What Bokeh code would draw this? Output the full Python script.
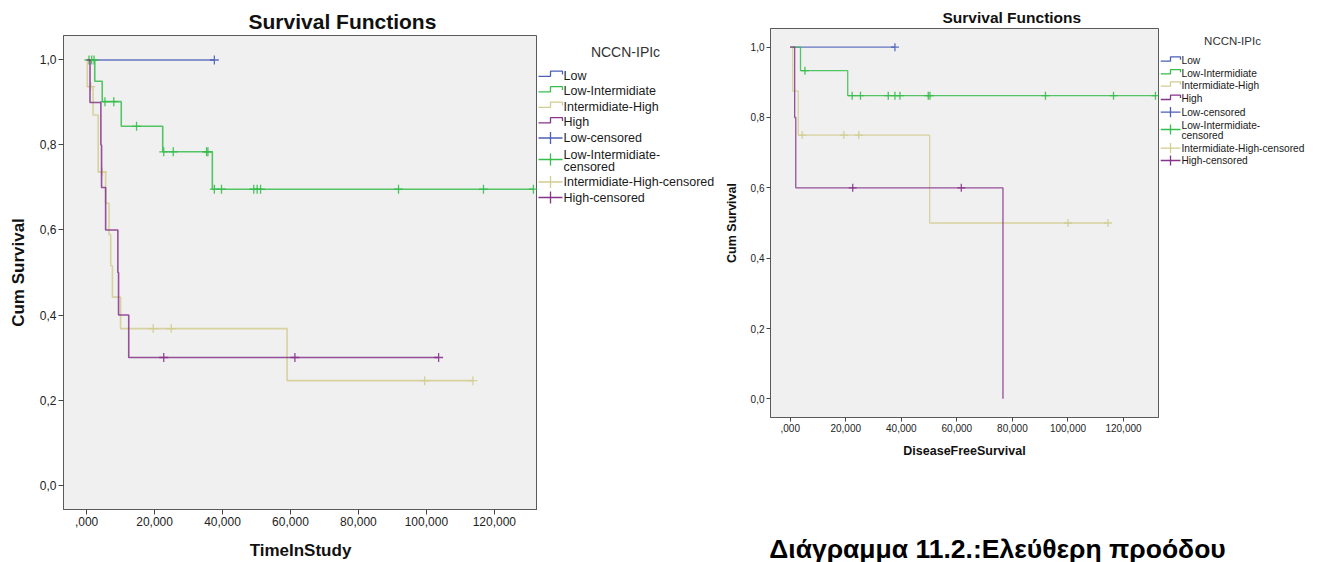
import numpy as np
from bokeh.plotting import figure
from bokeh.layouts import row, column
from bokeh.models import Range1d, FixedTicker, Title
from bokeh.core.properties import value
from bokeh.embed import file_html
from bokeh.resources import INLINE

FONT = "Liberation Sans"

# NCCN-IPI risk groups and their colours
groups = ["Low", "Low-Intermidiate", "Intermidiate-High", "High"]
colors = ["#4a5fb8", "#37bd4c", "#d2cd90", "#86338a"]

# Axis ticks (time in months, decimal comma labels)
x_ticks = [0, 20, 40, 60, 80, 100, 120]
x_tick_labels = [",000", "20,000", "40,000", "60,000", "80,000", "100,000", "120,000"]
y_ticks = [0.0, 0.2, 0.4, 0.6, 0.8, 1.0]
y_tick_labels = ["0,0", "0,2", "0,4", "0,6", "0,8", "1,0"]

# ---- Overall survival (TimeInStudy) ----
os_low_event_t = []
os_low_event_s = []
os_low_cens_t = [37.6]

os_lowint_event_t = [2.4, 4.6, 10.2, 22.4, 37.0]
os_lowint_event_s = [0.950, 0.902, 0.844, 0.784, 0.696]
os_lowint_cens_t = [0.7, 1.5, 2.2, 5.4, 8.0, 14.7, 22.7, 25.5, 35.3, 35.7,
                    37.6, 39.7, 49.2, 50.2, 51.2, 91.8, 116.8, 131.5]

os_inthigh_event_t = [0.2, 1.9, 3.4, 5.6, 6.6, 7.1, 7.6, 10.0, 59.0]
os_inthigh_event_s = [0.9375, 0.8705, 0.7366, 0.663, 0.589, 0.516, 0.442, 0.368, 0.2455]
os_inthigh_cens_t = [1.2, 4.6, 19.6, 24.9, 99.5, 113.7]

os_high_event_t = [1.0, 4.2, 4.4, 5.6, 9.2, 9.4, 12.4]
os_high_event_s = [0.9, 0.8, 0.7, 0.6, 0.5, 0.4, 0.3]
os_high_cens_t = [22.7, 61.3, 103.6]

# ---- Disease free survival ----
dfs_low_event_t = []
dfs_low_event_s = []
dfs_low_cens_t = [37.7]

dfs_lowint_event_t = [3.7, 20.7]
dfs_lowint_event_s = [0.933, 0.862]
dfs_lowint_cens_t = [5.3, 22.3, 25.3, 35.3, 37.7, 39.5, 49.7, 50.3, 91.9, 116.4, 131.5]

dfs_inthigh_event_t = [0.9, 2.9, 50.2]
dfs_inthigh_event_s = [0.875, 0.75, 0.5]
dfs_inthigh_cens_t = [4.3, 19.3, 24.7, 100.0, 114.4]

dfs_high_event_t = [1.6, 2.0, 76.6]
dfs_high_event_s = [0.8, 0.6, 0.0]
dfs_high_cens_t = [22.5, 61.6]

os_data = [
    (os_low_event_t, os_low_event_s, os_low_cens_t),
    (os_lowint_event_t, os_lowint_event_s, os_lowint_cens_t),
    (os_inthigh_event_t, os_inthigh_event_s, os_inthigh_cens_t),
    (os_high_event_t, os_high_event_s, os_high_cens_t),
]
dfs_data = [
    (dfs_low_event_t, dfs_low_event_s, dfs_low_cens_t),
    (dfs_lowint_event_t, dfs_lowint_event_s, dfs_lowint_cens_t),
    (dfs_inthigh_event_t, dfs_inthigh_event_s, dfs_inthigh_cens_t),
    (dfs_high_event_t, dfs_high_event_s, dfs_high_cens_t),
]

legend_lines = [["Low"], ["Low-Intermidiate"], ["Intermidiate-High"], ["High"],
                ["Low-censored"], ["Low-Intermidiate-", "censored"],
                ["Intermidiate-High-censored"], ["High-censored"]]


def surv_at(t, ev_t, ev_s):
    idx = np.searchsorted(np.asarray(ev_t, dtype=float), t, side="right")
    return 1.0 if idx == 0 else ev_s[idx - 1]


def km_panel(p, data, lw, msize):
    for (ev_t, ev_s, cens), col in zip(data, colors):
        xs = [0.0] + list(ev_t)
        ys = [1.0] + list(ev_s)
        last = max(list(ev_t) + list(cens))
        if last > xs[-1]:
            xs.append(last)
            ys.append(ys[-1])
        p.step(xs, ys, mode="after", line_color=col, line_width=lw, line_alpha=0.85)
        cy = [surv_at(t, ev_t, ev_s) for t in cens]
        p.scatter(cens, cy, marker="cross", size=msize, line_color=col,
                  line_width=1.3, line_alpha=0.9)


def style_axes(p, xlabel, tick_size, label_size, tick_out, x_standoff, y_standoff):
    p.xaxis.ticker = FixedTicker(ticks=x_ticks)
    p.xaxis.major_label_overrides = dict(zip(x_ticks, x_tick_labels))
    p.yaxis.ticker = FixedTicker(ticks=y_ticks)
    p.yaxis.major_label_overrides = dict(zip(y_ticks, y_tick_labels))
    p.xgrid.visible = False
    p.ygrid.visible = False
    p.background_fill_color = "#f0f0f0"
    p.border_fill_color = "white"
    p.outline_line_color = "#5a5a5a"
    p.outline_line_width = 1
    for ax in (p.xaxis[0], p.yaxis[0]):
        ax.minor_tick_line_color = None
        ax.major_tick_in = 0
        ax.major_tick_out = tick_out
        ax.major_tick_line_color = "#444444"
        ax.axis_line_color = "#5a5a5a"
        ax.major_label_text_font = FONT
        ax.major_label_text_font_size = tick_size
        ax.major_label_text_color = "#222222"
        ax.major_label_standoff = 2
        ax.axis_label_text_font = FONT
        ax.axis_label_text_font_style = "bold"
        ax.axis_label_text_font_size = label_size
        ax.axis_label_text_color = "#111111"
    p.xaxis.axis_label = xlabel
    p.yaxis.axis_label = "Cum Survival"
    p.xaxis.axis_label_standoff = x_standoff
    p.yaxis.axis_label_standoff = y_standoff


def blank_figure(w, h, top=0, bottom=0):
    # y range runs top-down in pixel-like units over the figure's frame
    f = figure(width=w, height=h, x_range=Range1d(0, w), y_range=Range1d(h - bottom, top),
               min_border_left=0, min_border_right=0, min_border_top=top,
               min_border_bottom=bottom, toolbar_location=None, output_backend="svg",
               title=None)
    f.axis.visible = False
    f.grid.visible = False
    f.outline_line_color = None
    return f


def legend_panel(w, h, top, bottom, title_xy, title_size, x0, x1, tx, centers, font_size, k):
    f = blank_figure(w, h, top, bottom)
    f.text([title_xy[0]], [title_xy[1]], text=["NCCN-IPIc"], text_font=value(FONT),
           text_font_size=title_size, text_color="#333333",
           text_align="center", text_baseline="middle")
    xm = (x0 + x1) / 2
    for i, (yc, lines) in enumerate(zip(centers, legend_lines)):
        col = colors[i % 4]
        yi = yc - 1.0 if len(lines) > 1 else yc
        if i < 4:
            f.line([x0, xm, xm, x1, x1],
                   [yi + 0.8 * k, yi + 0.8 * k, yi - 4.3 * k, yi - 4.3 * k, yi - 1.0 * k],
                   line_color=col, line_width=1.3)
        else:
            f.line([x0, x1], [yi, yi], line_color=col, line_width=1.3)
            f.line([xm, xm], [yi - 6 * k, yi + 6 * k], line_color=col, line_width=1.3)
        n = len(lines)
        step = 12 * k
        for j, txt in enumerate(lines):
            f.text([tx], [yc + (j - (n - 1) / 2) * step], text=[txt], text_font=value(FONT),
                   text_font_size=font_size, text_color="#1a1a1a",
                   text_align="left", text_baseline="middle")
    return f


# ---- left panel: overall survival ----
p1 = figure(width=537, height=562, x_range=Range1d(-6.8, 132.7),
            y_range=Range1d(-0.0576, 1.0576), min_border_left=63, min_border_right=0,
            min_border_top=35, min_border_bottom=53, toolbar_location=None,
            output_backend="svg", title=None)
p1.add_layout(Title(text="Survival Functions", align="left", offset=185,
                    text_font=FONT, text_font_size="21px", text_font_style="bold",
                    text_color="#111111", standoff=6), "above")
km_panel(p1, os_data, 1.6, 9)
style_axes(p1, "TimeInStudy", "12px", "17px", 5, 12, 9)

leg1 = legend_panel(183, 562, 35, 53, (88, 51.5), "14px", 1, 25, 26,
                    [75, 90.5, 106, 121.5, 137.5, 160, 181.5, 197], "12.5px", 1.0)

# ---- right panel: disease free survival ----
p2 = figure(width=440, height=470, x_range=Range1d(-7.1, 132.6),
            y_range=Range1d(-0.053, 1.053), min_border_left=50, min_border_right=2,
            min_border_top=28, min_border_bottom=53, toolbar_location=None,
            output_backend="svg", title=None)
p2.add_layout(Title(text="Survival Functions", align="left", offset=172,
                    text_font=FONT, text_font_size="15.5px", text_font_style="bold",
                    text_color="#111111", standoff=6), "above")
km_panel(p2, dfs_data, 1.3, 8)
style_axes(p2, "DiseaseFreeSurvival", "10px", "12.5px", 4, 9, 9)

leg2 = legend_panel(159, 470, 28, 53, (72, 40), "11.5px", 0, 20, 21,
                    [60, 72.7, 85, 98.3, 111.7, 130, 147.7, 160], "10.2px", 0.85)

cap = blank_figure(599, 92)
cap.text([277], [78], text=["Διάγραμμα 11.2.:Ελεύθερη προόδου"], text_font=value(FONT),
         text_font_size="26.5px", text_font_style="bold", text_color="#000000",
         text_align="center", text_baseline="middle")

layout = row(p1, leg1, column(row(p2, leg2), cap))

open("out.html", "w").write(file_html(layout, INLINE))
